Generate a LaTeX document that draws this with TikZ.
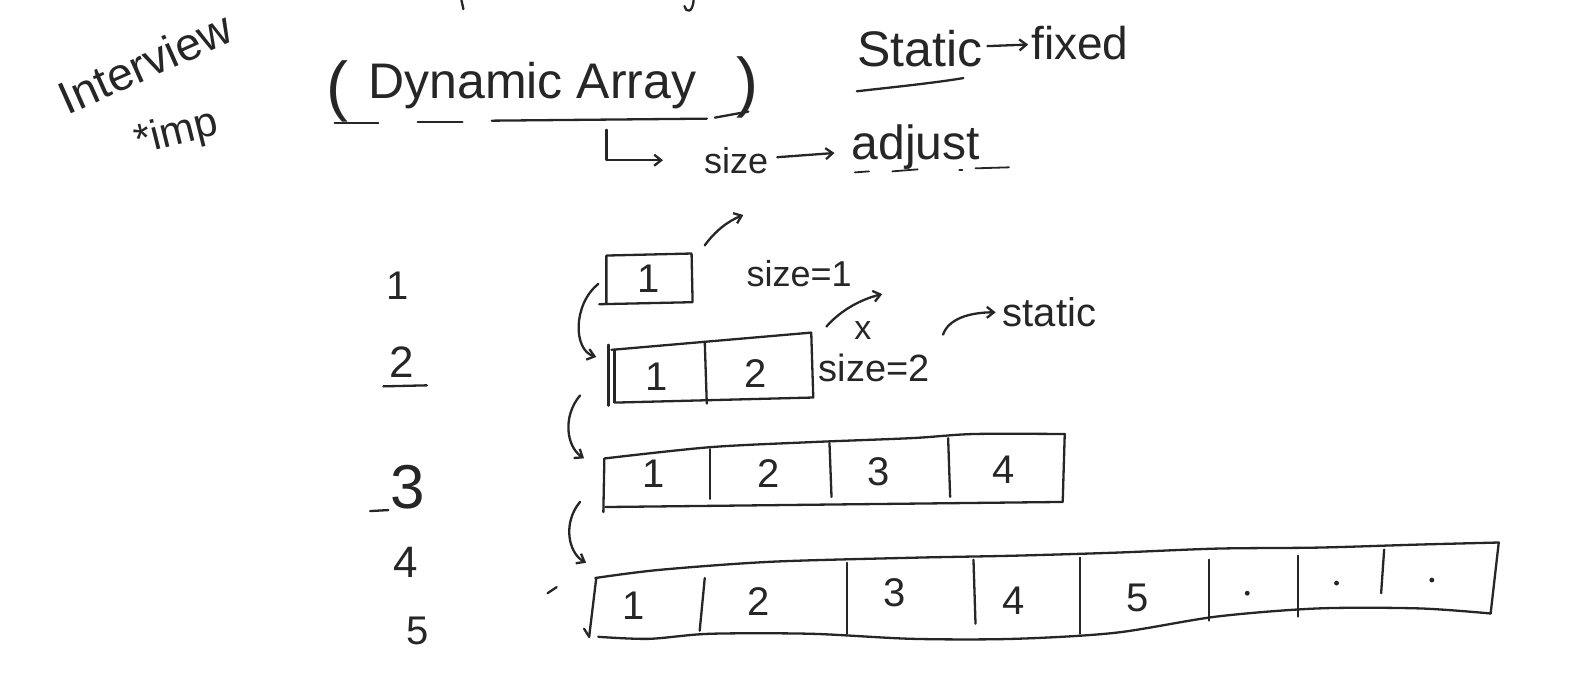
\documentclass[tikz,border=0pt]{standalone}
\usepackage{fontspec}
\setmainfont{Liberation Sans}
\usepackage{tikz}
\usetikzlibrary{arrows.meta}
\definecolor{ink}{HTML}{262626}

\begin{document}
\begin{tikzpicture}[
    x = {(1.014pt, 0)},
    y = {(0, -1.014pt)},
    line width = 2.3pt,
    line cap = round,
    line join = round,
    draw = ink,
    > = {Straight Barb[length = 7pt, width = 11pt]},
    %
    hand/.style = {text = ink,
      inner sep = 0pt,
      font = \fontsize{#1}{#1}\selectfont},
    hand/.default = 40,
    %
    cell/.style = {hand = 40},
    index/.style = {hand = #1},
    thin/.style = {line width = 1.8pt},
    ]

    \useasboundingbox (0, 0) rectangle (1568, 668);

    % heading notes
    \node at (143, 62) [hand = 46, rotate = 24, name = interview] {Interview};
    \node at (174, 132) [hand = 42, rotate = 14, name = imp] {*imp};

    \node at (333, 90) [hand = 66, name = lpar] {(};
    \node at (525, 84) [hand = 50, name = dyn] {Dynamic Array};
    \node at (737, 86) [hand = 66, name = rpar] {)};

    \draw (330, 121) -- (373, 121);
    \draw (412, 120) -- (456, 120);
    \draw (485, 119) -- (697, 117);
    \draw (705, 116) -- (738, 110);

    \draw (455, 0) -- (457, 9);
    \draw (684, 0) .. controls (683, 14) and (676, 12) .. (675, 6);

    \node at (907, 48) [hand = 50, name = static] {Static};
    \node at (1065, 42) [hand = 46, name = fixed] {fixed};
    \draw [->, shorten < = 4, shorten > = 2] (static) to (fixed);
    \draw (845, 90) .. controls (880, 86) and (920, 82) .. (950, 77);

    \node at (726, 158) [hand = 36, name = size] {size};
    \node at (903, 145) [hand = 48, name = adjust] {adjust};
    \draw [->, shorten < = 8, shorten > = 16] (size) to (adjust);
    \draw [->, shorten > = 40] (598, 128) |- (size.west);

    \draw [thin] (843, 170) -- (857, 169);
    \draw [thin] (880, 169) -- (905, 167);
    \draw [thin] (946, 168) -- (949, 168);
    \draw [thin] (962, 166) -- (995, 165);

    % left column
    \node at (392, 282) [index = 40, name = n1] {1};
    \node at (396, 357) [index = 44, name = n2] {2};
    \draw (378, 381) -- (421, 380);
    \node at (402, 480) [index = 62, name = n3] {3};
    \draw (365, 504) -- (383, 503);
    \node at (400, 555) [index = 44, name = n4] {4};
    \node at (412, 622) [index = 40, name = n5] {5};

    % array of one
    \draw (591, 300) -- (683, 298) -- (682, 250) -- (598, 252) -- (598, 300);
    \node at (640, 275) [cell, name = a11] {1};
    \coordinate (box1-w) at (590, 280);
    \coordinate (box1-ne) at (695, 242);
    \coordinate (box1-out) at (733, 212);
    \draw [->] (box1-ne) .. controls (705, 228) and (718, 218) .. (box1-out);
    \node at (788, 270) [hand = 36, name = size1] {size=1};

    % array of two
    \draw (603, 345) -- (800, 328) -- (802, 392) -- (607, 397);
    \draw (600, 340) -- (600, 400);
    \draw (606, 345) -- (606, 397);
    \draw (695, 337) -- (697, 398);
    \node at (648, 372) [cell, name = a21] {1};
    \node at (745, 368) [cell, name = a22] {2};
    \coordinate (box2-w) at (588, 352);
    \draw [->] (box1-w) .. controls (565, 300) and (565, 345) .. (box2-w);

    \node at (862, 363) [hand = 38, name = size2] {size=2};
    \node at (851, 326) [hand = 34, name = cross] {x};
    \coordinate (box2-ne) at (815, 322);
    \coordinate (box2-out) at (870, 290);
    \draw [->] (box2-ne) .. controls (830, 305) and (850, 295) .. (box2-out);
    \node at (1035, 308) [hand = 40, name = static2] {static};
    \coordinate (size2-ne) at (930, 330);
    \draw [->, shorten > = 6] (size2-ne) .. controls (935, 315) and (955, 308) .. (static2.west);

    % array of four
    \draw plot [smooth] coordinates {(597, 452) (700, 441) (800, 436)
      (900, 432) (960, 428) (1050, 428)}
    -- (1048, 495) -- (597, 500);
    \draw (596, 452) -- (595, 505);
    \draw (700, 443) -- (700, 492);
    \draw (818, 437) -- (820, 490);
    \draw (935, 432) -- (937, 490);
    \node at (645, 467) [cell, name = a41] {1};
    \node at (758, 467) [cell, name = a42] {2};
    \node at (866, 465) [cell, name = a43] {3};
    \node at (990, 463) [cell, name = a44] {4};
    \coordinate (box2-w2) at (572, 390);
    \coordinate (box3-w) at (576, 452);
    \draw [->] (box2-w2) .. controls (555, 410) and (558, 440) .. (box3-w);

    % array of eight
    \draw plot [smooth] coordinates {(587, 570) (650, 562) (760, 554)
      (900, 550) (1000, 548) (1100, 545) (1200, 541) (1300, 540)
      (1400, 537) (1478, 535)}
    -- (1470, 605);
    \draw plot [smooth] coordinates {(1470, 605) (1400, 600) (1300, 600)
      (1200, 608) (1100, 624) (1000, 630) (900, 630) (800, 625)
      (700, 625) (640, 630) (590, 628)};
    \draw (588, 570) -- (581, 628);
    \draw (576, 620) -- (581, 628);
    \draw (695, 570) -- (690, 622);
    \draw (835, 555) -- (835, 625);
    \draw (960, 552) -- (962, 615);
    \draw (1065, 550) -- (1065, 625);
    \draw (1192, 552) -- (1192, 612);
    \draw (1280, 548) -- (1280, 608);
    \draw (1365, 542) -- (1362, 585);
    \node at (625, 597) [cell, name = a81] {1};
    \node at (748, 593) [cell, name = a82] {2};
    \node at (882, 585) [cell, name = a83] {3};
    \node at (1000, 592) [cell, name = a84] {4};
    \node at (1122, 590) [cell, name = a85] {5};
    \fill [ink] (1230, 585) circle (2.4);
    \fill [ink] (1318, 575) circle (2.4);
    \fill [ink] (1412, 572) circle (2.4);
    \coordinate (box3-w2) at (572, 495);
    \coordinate (box4-w) at (578, 555);
    \draw [->] (box3-w2) .. controls (555, 515) and (560, 545) .. (box4-w);
    \draw (540, 585) -- (549, 579);

  \end{tikzpicture}
\end{document}
